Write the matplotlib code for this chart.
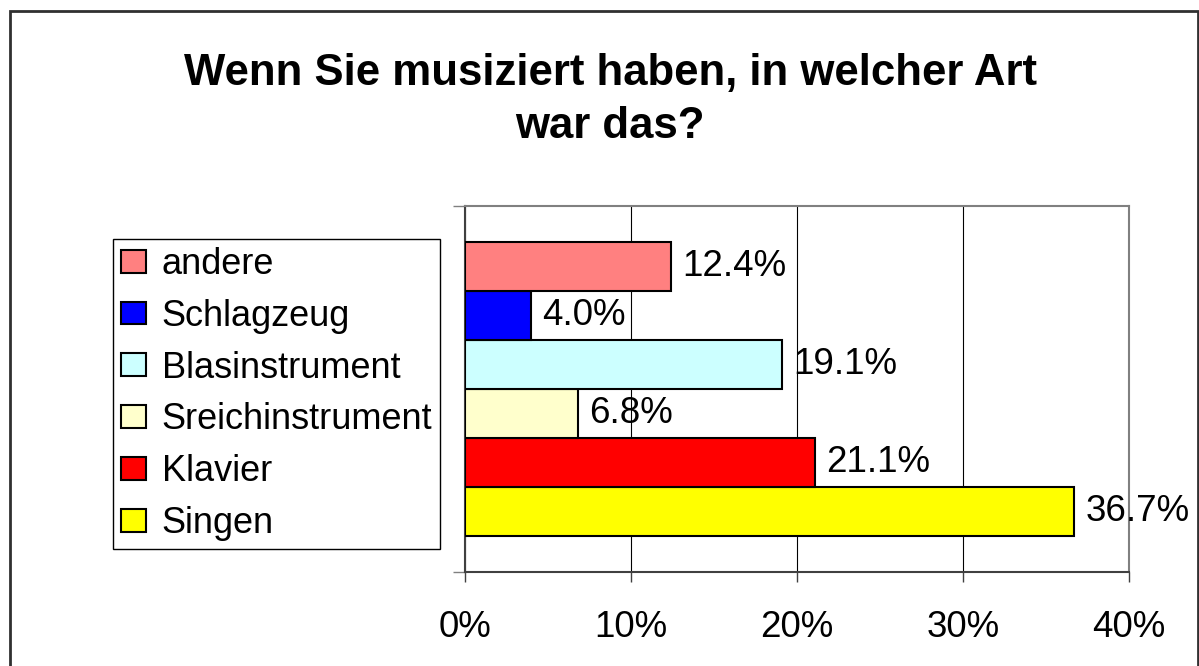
import matplotlib.pyplot as plt
import matplotlib.patches as mpatches
from matplotlib.ticker import FuncFormatter

plt.rcParams['font.family'] = ['Liberation Sans', 'DejaVu Sans']

# categories from bottom to top
categories = ["Singen", "Klavier", "Sreichinstrument", "Blasinstrument", "Schlagzeug", "andere"]
shares = [36.7, 21.1, 6.8, 19.1, 4.0, 12.4]
colors = ["#FFFF00", "#FF0000", "#FFFFCC", "#CCFFFF", "#0000FF", "#FF8080"]
x_ticks = [0, 10, 20, 30, 40]
title = "Wenn Sie musiziert haben, in welcher Art\nwar das?"

fig = plt.figure(figsize=(11.99, 6.66), dpi=100)
ax = fig.add_axes([0.3878, 0.1411, 0.9416 - 0.3878, 0.6907 - 0.1411])

pos = list(range(len(categories)))
bars = ax.barh(pos, shares, height=1.0, color=colors, edgecolor="black", linewidth=1.5, zorder=3)

for p, v in zip(pos, shares):
    ax.annotate("%.1f%%" % v, (v, p), xytext=(8, 0), textcoords="offset points",
                va="center", ha="left", fontsize=26.5, zorder=4)

ax.set_xlim(0, 40)
ax.set_ylim(-1.235, len(categories) - 1 + 1.235)
ax.set_xticks(x_ticks)
ax.xaxis.set_major_formatter(FuncFormatter(lambda v, _: "%d%%" % v))
ax.tick_params(axis="x", direction="out", length=7.5, width=1, color="#404040",
               labelsize=26.5, pad=20)
ax.set_yticks(list(ax.get_ylim()))
ax.set_yticklabels([])
ax.tick_params(axis="y", direction="out", length=8.6, width=1, color="#808080")
ax.grid(axis="x", color="black", linewidth=0.8, zorder=0)

ax.spines["left"].set_color("#404040")
ax.spines["left"].set_linewidth(1.5)
ax.spines["bottom"].set_color("#404040")
ax.spines["bottom"].set_linewidth(1.5)
ax.spines["top"].set_color("#808080")
ax.spines["top"].set_linewidth(1.5)
ax.spines["right"].set_color("#808080")
ax.spines["right"].set_linewidth(1.5)

fig.text(0.509, 0.85, title, ha="center", va="center", fontsize=31.5,
         fontweight="bold", linespacing=1.36)

handles = [mpatches.Patch(facecolor=c, edgecolor="black", linewidth=1.5, label=l)
           for c, l in zip(colors, categories)]
leg = fig.legend(handles[::-1], categories[::-1], loc="upper left",
                 bbox_to_anchor=(113 / 1199, 1 - 239 / 666), fontsize=26,
                 frameon=True, fancybox=False, framealpha=1, edgecolor="black",
                 handlelength=0.68, handleheight=0.6, handletextpad=0.45,
                 labelspacing=0.465, borderpad=0.22, borderaxespad=0)
leg.get_frame().set_linewidth(1)

border = mpatches.Rectangle((10 / 1199, -0.05), 1188 / 1199, 1.05 - 11 / 666,
                            transform=fig.transFigure, fill=False,
                            edgecolor="#303030", linewidth=2)
fig.patches.append(border)

fig.savefig("out.png", dpi=100)
